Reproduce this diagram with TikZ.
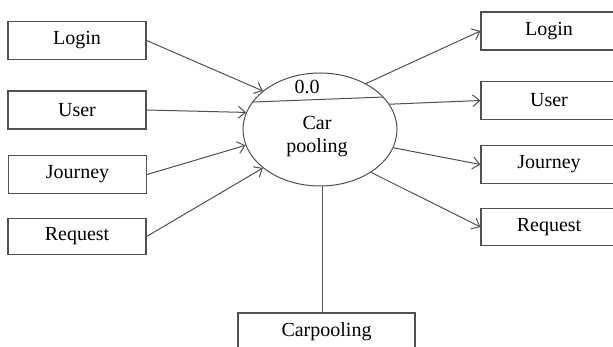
\documentclass[tikz,border=0pt]{standalone}
\usepackage{fontspec}
\setmainfont{Liberation Serif}
\usetikzlibrary{arrows.meta,shapes.geometric}
\definecolor{linegray}{RGB}{80,80,80}
\begin{document}
\begin{tikzpicture}[x=1pt,y=-1pt,
  box/.style={draw=linegray, line width=1.2pt, minimum width=138pt, minimum height=38pt, inner sep=0pt, font=\fontsize{20}{24}\selectfont},
  flow/.style={draw=linegray, line width=1pt, -{Straight Barb[length=7pt,width=12pt]}},
  plain/.style={draw=linegray, line width=1pt},
  lbl/.style={inner sep=0pt, font=\fontsize{20}{23}\selectfont, align=center}]
\useasboundingbox (0,0) rectangle (613,347);
\clip (0,0) rectangle (613,347);
% left boxes
\node[box] (lLogin) at (77,40.5) {Login};
\node[box] (lUser) at (77,110) {User};
\node[box] (lJourney) at (77.5,174.5) {Journey};
\node[box, minimum height=36pt] (lRequest) at (77,236.5) {Request};
% right boxes (cut by the right edge)
\node[box, minimum width=136pt] (rLogin) at (549,31) {Login};
\node[box, minimum width=136pt] (rUser) at (549,100.5) {User};
\node[box, minimum width=136pt] (rJourney) at (549,164.5) {Journey};
\node[box, minimum width=136pt, minimum height=37pt] (rRequest) at (549,227) {Request};
% bottom box (cut by the bottom edge)
\node[box, minimum width=177pt] (cp) at (326.5,332) {Carpooling};
% process
\node[draw=linegray, line width=1pt, ellipse, minimum width=154pt, minimum height=113pt, inner sep=0pt] (ell) at (320,129.5) {};
\draw[plain] (ell.158) -- (ell.27.3);
\node[lbl] (num) at (307,87) {0.0};
\node[lbl] (name) at (317,137) {Car\\pooling};
% inputs
\draw[flow] (lLogin.east) -- (ell.146);
\draw[flow] (lUser.east) -- (ell.167.4);
\draw[flow] (lJourney.east) -- (ell.192.6);
\draw[flow] (lRequest.east) -- (ell.214);
% outputs
\draw[flow] (ell.45.6) -- (rLogin.west);
\draw[flow] (ell.20) -- (rUser.west);
\draw[flow] (ell.-14.3) -- (rJourney.west);
\draw[flow] (ell.-40.7) -- (rRequest.west);
% link to bottom
\coordinate (bot) at ([xshift=2pt]ell.south);
\draw[plain] (bot) -- (bot |- cp.north);
\end{tikzpicture}
\end{document}
